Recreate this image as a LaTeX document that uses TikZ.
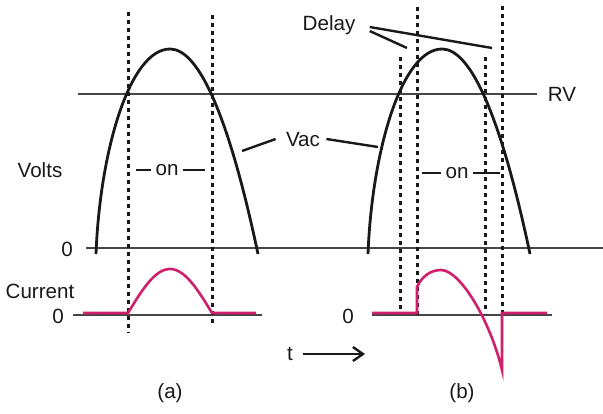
\documentclass[tikz,border=0pt]{standalone}
\usepackage{fontspec}
\setmainfont{Liberation Sans}
\usetikzlibrary{arrows.meta}
\definecolor{trace}{RGB}{25,25,25}
\definecolor{axis}{RGB}{70,70,70}
\definecolor{amps}{RGB}{206,32,107}
\tikzset{wave/.style={trace,line width=1.4pt},
  gate/.style={trace,line width=1.5pt,dash pattern=on 2pt off 2pt},
  level/.style={axis,line width=.7pt},
  amp/.style={amps,line width=1.3pt,line join=miter},
  tag/.style={trace,line width=1.2pt},
  labeltext/.style={font=\fontsize{10.3}{12}\selectfont,text=trace,inner sep=0pt}}

\begin{document}
\begin{tikzpicture}[x=.5pt,y=-.5pt]
\useasboundingbox (0,0) rectangle (603,413);
% reference levels
\draw[level] (78,94)--(537,94);
\draw[level] (86,248)--(603,248);
\draw[level] (73,315)--(262,315);
\draw[level] (372,315)--(552,315);
% half cycle of the supply, once per panel
\foreach \s in {0,272}{
  \draw[wave] (96+\s,254) .. controls (100+\s,150) and (130+\s,49) .. (170+\s,49)
    .. controls (199+\s,49) and (229+\s,117) .. (258+\s,254);
}
\foreach \x/\top/\bot in {128/12/333,212/15/325,400/57/313,417/7/315,485/57/313,502/6/313}
  \draw[gate] (\x,\top)--(\x,\bot);
% current traces
\draw[amp] (83,313)--(128,313)--plot[domain=0:180,samples=40] ({128+\x*84/180},{313-44*sin(\x)})--(256,313);
\draw[amp] (372,313)--(417,313)--(417,287) .. controls (422,276) and (431,270) .. (441,270)
  .. controls (460,270) and (490,320) .. (502,370)--(502,313)--(547,313);
% labels
\node[labeltext] (volts) at (40,170) {Volts};
\node[labeltext] (zerov) at (67,249) {0};
\node[labeltext] (current) at (40,291) {Current};
\node[labeltext] (zeroa) at (58,316) {0};
\node[labeltext] (zerob) at (348,316) {0};
\node[labeltext] (rv) at (562,94) {RV};
\node[labeltext] (vac) at (303,140) {Vac};
\node[labeltext] (delay) at (329,25) {Delay};
\node[labeltext,inner xsep=2pt] (ona) at (167,170) {on};
\node[labeltext,inner xsep=2pt] (onb) at (457,173) {on};
\node[labeltext] (time) at (290,354) {t};
\node[labeltext] (capa) at (170,393) {(a)};
\node[labeltext] (capb) at (462,393) {(b)};
\coordinate (vacL) at (242,151);
\coordinate (vacR) at (378,147);
\coordinate (dlyL) at (407,48);
\coordinate (dlyR) at (492,48);
\coordinate (onaL) at (136,170);
\coordinate (onaR) at (205,170);
\coordinate (onbL) at (422,173);
\coordinate (onbR) at (500,173);
\coordinate (timeR) at (365,354);
\draw[tag] ([xshift=-5pt,yshift=.5pt]vac.west)--(vacL);
\draw[tag] ([xshift=3pt,yshift=.5pt]vac.east)--(vacR);
\draw[tag] ([xshift=7pt,yshift=-1pt]delay.east)--(dlyR);
\draw[tag] ([xshift=7pt,yshift=-3pt]delay.east)--(dlyL);
\draw[tag] (ona.west)--(onaL);
\draw[tag] (ona.east)--(onaR);
\draw[tag] (onb.west)--(onbL);
\draw[tag] (onb.east)--(onbR);
\draw[tag,-{Straight Barb[length=5pt,width=7pt]}] ([xshift=5pt]time.east)--(timeR);
\end{tikzpicture}
\end{document}
